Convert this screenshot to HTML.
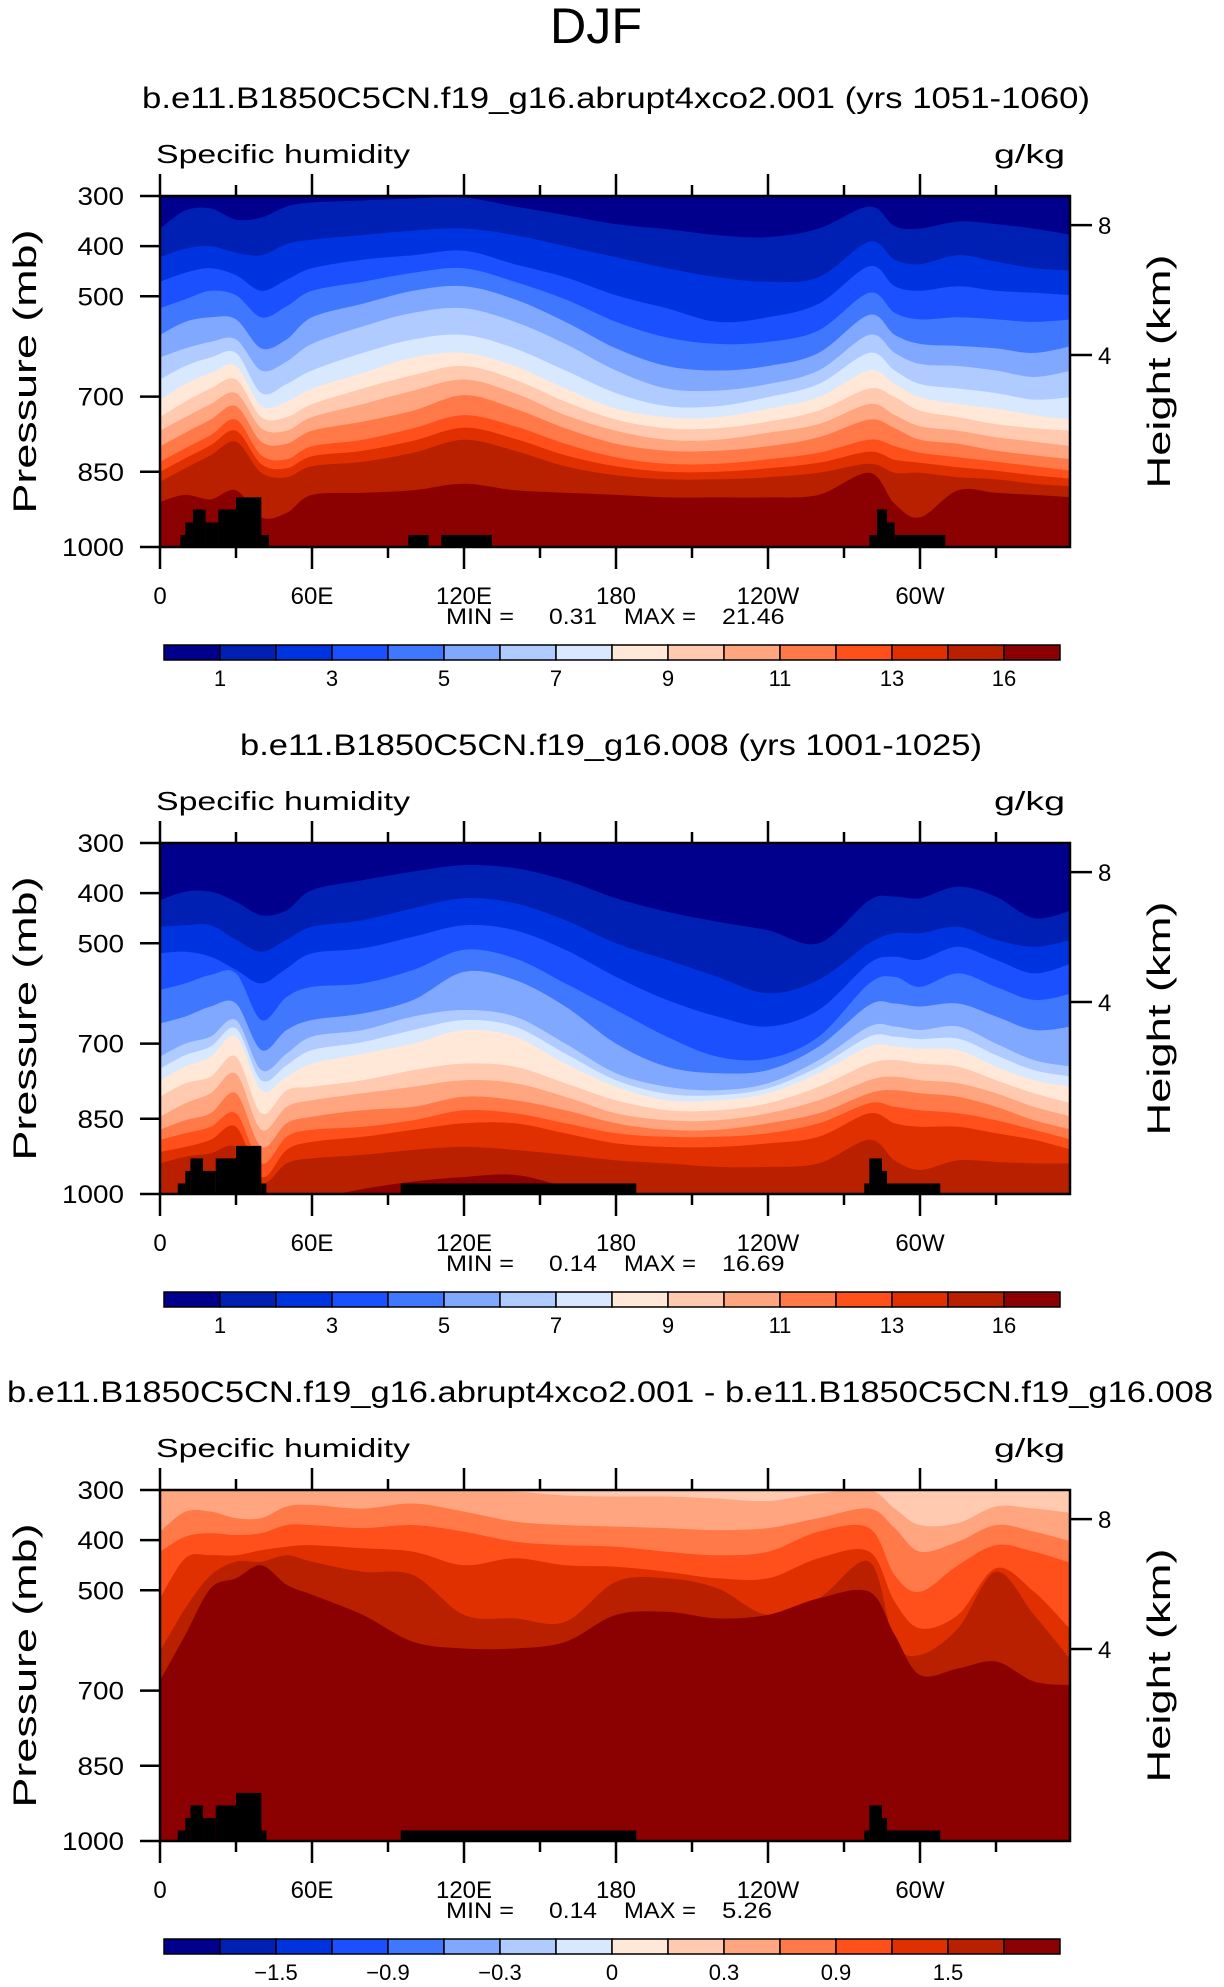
<!DOCTYPE html>
<html><head><meta charset="utf-8"><title>DJF Specific humidity</title>
<style>
html,body{margin:0;padding:0;background:#fff;}
svg{display:block;}
text{font-family:"Liberation Sans",sans-serif;fill:#000;}
</style></head>
<body>
<svg id="fig" xmlns="http://www.w3.org/2000/svg" width="1224" height="1987" viewBox="0 0 1224 1987">
<rect x="0" y="0" width="1224" height="1987" fill="#fff"/>
<text x="596" y="43" font-size="50" text-anchor="middle" textLength="92" lengthAdjust="spacingAndGlyphs">DJF</text>
<g id="panels"></g>
</svg>
<script>
// ---- data ----
const LON = [0,10,20,30,40,50,60,80,100,120,140,160,180,200,220,240,260,280,290,300,315,330,345,360];
const COLORS = ["#00008c","#0020b4","#0033e0","#1a50ff","#4077ff","#80a8ff","#b0cbff","#d8e8ff","#ffe8d8","#ffcaaf","#ffa57f","#ff7a48","#ff501c","#e03000","#b82000","#8b0000"];
const CB_LABELS_ABS = ["1","3","5","7","9","11","13","16"];
const CB_LABEL_IDX_ABS = [0,2,4,6,8,10,12,14];
const CB_LABELS_DIFF = ["\u22121.5","\u22120.9","\u22120.3","0","0.3","0.9","1.5"];
const CB_LABEL_IDX_DIFF = [1,3,5,7,9,11,13];
const LON_TICKS = [0,60,120,180,240,300];
const LON_LABELS = ["0","60E","120E","180","120W","60W"];
const P_TICKS = [300,400,500,700,850,1000];
const P_LABELS = ["300","400","500","700","850","1000"];
const KM_TICKS = [8,4];
const KM_TICK_P = [358,617];

// panel 1 boundary pressures (mb) per longitude
const p1b00=[365,329,325,347,343,321,313,309,305,303,321,338,356,366,378,382,365,321,360,365,351,356,365,378];
const p1b01=[422,405,400,413,418,396,387,378,369,365,378,400,422,444,462,471,462,391,427,436,418,431,444,449];
const p1b02=[471,453,444,458,489,467,444,427,418,409,436,462,498,524,551,542,515,440,480,489,480,489,493,498];
const p1b03=[524,506,489,498,542,520,489,471,453,444,471,506,551,582,595,591,568,493,533,546,542,546,551,546];
const p1b04=[577,551,542,546,604,586,542,515,489,480,506,551,604,639,648,639,613,537,577,595,599,604,613,599];
const p1b05=[622,604,591,586,648,630,595,560,533,524,551,595,648,684,688,675,648,577,613,635,639,648,661,648];
const p1b06=[666,639,622,613,693,675,648,613,586,577,604,648,693,719,719,701,675,613,648,675,684,693,706,701];
const p1b07=[706,675,653,639,719,710,684,653,622,613,639,684,724,741,741,724,701,648,675,701,715,724,737,746];
const p1b08=[741,710,684,666,741,741,715,684,657,639,666,710,746,763,763,750,728,684,701,728,741,755,763,768];
const p1b09=[768,741,715,693,763,768,741,715,688,666,693,737,768,786,786,772,755,715,737,759,768,781,790,799];
const p1b10=[799,772,746,719,790,794,768,750,728,697,724,763,794,808,808,799,781,746,763,786,794,808,817,825];
const p1b11=[830,803,777,746,817,825,799,786,763,737,759,794,821,834,834,825,812,786,799,812,821,830,839,848];
const p1b12=[850,823,797,768,835,843,819,808,788,762,784,817,839,850,850,843,832,810,826,832,841,848,857,864];
const p1b13=[870,843,817,790,852,861,839,830,812,786,808,839,857,865,865,861,852,834,852,852,861,865,874,879];
const p1b14=[910,896,905,887,941,932,896,892,887,874,887,892,896,901,901,901,896,852,914,941,887,892,896,901];

// panel 2
const p2b00=[414,397,397,417,444,434,394,374,357,344,350,374,410,437,457,474,500,414,407,410,387,407,450,434];
const p2b01=[467,464,464,493,517,493,467,454,430,410,420,454,500,533,567,600,573,500,480,480,467,493,507,493];
const p2b02=[520,517,527,553,580,550,520,510,487,464,474,513,567,613,646,666,633,540,527,533,507,533,560,540];
const p2b03=[593,580,563,560,653,607,587,580,553,513,530,580,633,686,726,730,686,580,567,587,560,587,613,600];
const p2b04=[660,646,626,620,713,673,653,640,613,557,573,626,700,746,759,753,706,623,620,626,620,646,673,666];
const p2b05=[726,700,686,653,753,720,686,673,646,633,646,700,759,786,793,779,733,666,666,673,666,700,733,746];
const p2b06=[750,723,706,670,773,743,713,697,673,653,666,720,773,800,803,789,746,686,686,691,690,723,753,766];
const p2b07=[773,746,726,686,793,766,740,720,700,673,686,740,786,813,813,799,759,706,706,710,713,746,773,786];
const p2b08=[806,779,766,726,839,793,786,773,753,740,746,779,813,833,833,819,786,740,733,740,746,773,799,819];
const p2b09=[846,819,799,760,872,826,813,799,786,773,779,806,839,853,853,839,813,773,766,773,779,799,826,846];
const p2b10=[872,853,839,799,906,859,846,833,826,806,813,833,859,872,872,859,839,799,793,799,806,826,853,872];
const p2b11=[892,879,866,839,939,886,872,866,853,833,839,859,879,886,886,879,859,819,826,833,839,853,872,892];
const p2b12=[916,906,892,866,966,912,896,886,872,859,859,879,899,906,906,899,886,839,859,866,866,879,892,912];
const p2b13=[939,926,919,906,979,939,929,922,912,906,912,922,933,939,946,946,939,892,933,952,933,936,939,939];
const p2b14=[1010,1010,1010,1010,1010,1010,1010,990,975,966,962,985,1010,1010,1010,1010,1010,1010,1010,1010,1010,1010,1010,1010];

// panel 3 (difference)
const p3b00=[300,300,300,300,300,300,300,300,300,300,303,311,313,313,317,322,307,300,337,370,366,333,337,346];
const p3b01=[383,343,343,356,356,333,330,337,327,343,363,370,373,376,380,376,356,337,376,423,403,370,383,403];
const p3b02=[423,393,386,390,386,370,370,376,370,383,403,410,413,423,430,423,383,376,470,503,450,410,423,446];
const p3b03=[516,436,430,430,420,413,410,416,423,450,436,450,453,463,476,476,436,423,523,576,549,456,503,582];
const p3b04=[622,536,470,443,443,430,443,463,470,549,556,563,483,476,496,549,516,443,603,629,576,463,549,642];
const p3b05=[680,589,496,476,450,489,509,549,603,616,616,603,549,543,556,549,516,503,589,669,656,642,682,689];

// topography [lon0, lon1, surface pressure]
const TOPO1 = [[8,10,976],[10,13,951],[13,18,925],[18,23,951],[23,30,925],[30,40,901],[40,43,976],[98,106,976],[111,131,976],[280,283,976],[283,287,925],[287,290,951],[290,310,976]];
const TOPO2 = [[7,10,979],[10,12,954],[12,17,929],[17,22,954],[22,30,929],[30,40,904],[40,42,979],[95,188,979],[278,280,979],[280,285,929],[285,287,954],[287,308,979]];

const P1_BOUNDS=[p1b00,p1b01,p1b02,p1b03,p1b04,p1b05,p1b06,p1b07,p1b08,p1b09,p1b10,p1b11,p1b12,p1b13,p1b14];
const P2_BOUNDS=[p2b00,p2b01,p2b02,p2b03,p2b04,p2b05,p2b06,p2b07,p2b08,p2b09,p2b10,p2b11,p2b12,p2b13,p2b14];
const P3_BOUNDS=[p3b00,p3b01,p3b02,p3b03,p3b04,p3b05];

const PANELS = [
 {top:196, title:"b.e11.B1850C5CN.f19_g16.abrupt4xco2.001 (yrs 1051-1060)", tx:616, tlen:948, bounds:P1_BOUNDS, base:0, topo:TOPO1, min:"0.31", max:"21.46", cbl:CB_LABELS_ABS, cbi:CB_LABEL_IDX_ABS},
 {top:843, title:"b.e11.B1850C5CN.f19_g16.008 (yrs 1001-1025)", tx:611, tlen:742, bounds:P2_BOUNDS, base:0, topo:TOPO2, min:"0.14", max:"16.69", cbl:CB_LABELS_ABS, cbi:CB_LABEL_IDX_ABS},
 {top:1490, title:"b.e11.B1850C5CN.f19_g16.abrupt4xco2.001 - b.e11.B1850C5CN.f19_g16.008", tx:610, tlen:1206, bounds:P3_BOUNDS, base:9, topo:TOPO2, min:"0.14", max:"5.26", cbl:CB_LABELS_DIFF, cbi:CB_LABEL_IDX_DIFF}
];

// ---- rendering ----
const NS="http://www.w3.org/2000/svg";
const L=160, W=910, H=351;
function xs(lon){return L + lon*(912/360);}
function ys(p,top){return top + (p-300)/700*H;}
function el(tag, attrs, parent){const e=document.createElementNS(NS,tag);for(const k in attrs)e.setAttribute(k,attrs[k]);parent.appendChild(e);return e;}
function txt(parent,x,y,s,size,anchor,len){const t=el('text',{x:x,y:y,'font-size':size,'text-anchor':anchor||'start'},parent);if(len){t.setAttribute('textLength',len);t.setAttribute('lengthAdjust','spacingAndGlyphs');}t.textContent=s;return t;}
function smoothPath(pts){
  let d="M"+pts[0][0].toFixed(1)+","+pts[0][1].toFixed(1);
  for(let i=0;i<pts.length-1;i++){
    const p0=pts[Math.max(0,i-1)],p1=pts[i],p2=pts[i+1],p3=pts[Math.min(pts.length-1,i+2)];
    const c1=[p1[0]+(p2[0]-p0[0])/6,p1[1]+(p2[1]-p0[1])/6];
    const c2=[p2[0]-(p3[0]-p1[0])/6,p2[1]-(p3[1]-p1[1])/6];
    d+=" C"+c1[0].toFixed(1)+","+c1[1].toFixed(1)+" "+c2[0].toFixed(1)+","+c2[1].toFixed(1)+" "+p2[0].toFixed(1)+","+p2[1].toFixed(1);
  }
  return d;
}
const root=document.getElementById('panels');
PANELS.forEach((P,pi)=>{
  const g=el('g',{},root);
  
  
  const top=P.top, bot=top+H;
  const t=txt(g,P.tx,top-88,P.title,30,'middle',P.tlen);
  
  
  const s1=txt(g,156,top-33,"Specific humidity",26,'start',254);
  
  
  const s2=txt(g,1065,top-33,"g/kg",26,'end',71);
  
  
  const cp=el('clipPath',{id:'clip'+pi},g);
  el('rect',{x:L,y:top,width:W,height:H},cp);
  const field=el('g',{'clip-path':'url(#clip'+pi+')'},g);
  
  
  const bg=el('rect',{x:L,y:top,width:W,height:H,fill:COLORS[P.base]},field);
  
  
  P.bounds.forEach((arr,k)=>{
    const pts=LON.map((lon,i)=>[xs(lon),ys(arr[i],top)]);
    let d=smoothPath(pts)+" L"+xs(360)+","+(bot+5)+" L"+xs(0)+","+(bot+5)+" Z";
    const path=el('path',{d:d,fill:COLORS[P.base+k+1]},field);
    
    
  });
  P.topo.forEach(seg=>{
    const r=el('rect',{x:xs(seg[0]),y:ys(seg[2],top),width:xs(seg[1])-xs(seg[0]),height:bot-ys(seg[2],top)+2,fill:'#000'},field);
    
    
  });
  const fr=el('rect',{x:L,y:top,width:W,height:H,fill:'none',stroke:'#000','stroke-width':2.5},g);
  
  
  for(let lon=0;lon<360;lon+=30){
    const major=lon%60===0, len=major?22:11;
    el('line',{x1:xs(lon),y1:top,x2:xs(lon),y2:top-len,stroke:'#000','stroke-width':2.5},g);
    el('line',{x1:xs(lon),y1:bot,x2:xs(lon),y2:bot+len,stroke:'#000','stroke-width':2.5},g);
  }
  LON_TICKS.forEach((lon,i)=>{
    const lt=txt(g,xs(lon),bot+57,LON_LABELS[i],24,'middle');
    
    
  });
  P_TICKS.forEach((p,i)=>{
    el('line',{x1:L,y1:ys(p,top),x2:L-20,y2:ys(p,top),stroke:'#000','stroke-width':2.5},g);
    const yt=txt(g,124,ys(p,top)+9,P_LABELS[i],25,'end',P_LABELS[i].length*15.5);
    
    
  });
  KM_TICKS.forEach((km,i)=>{
    const yy=ys(KM_TICK_P[i],top);
    el('line',{x1:L+W,y1:yy,x2:L+W+22,y2:yy,stroke:'#000','stroke-width':2.5},g);
    const kt=txt(g,1098,yy+9,String(km),24,'start');
    
    
  });
  const ya=txt(g,0,0,"Pressure  (mb)",32,'middle',284);
  ya.setAttribute('transform','translate(36,'+(top+H/2)+') rotate(-90)');
  
  
  const ya2=txt(g,0,0,"Height  (km)",32,'middle',234);
  ya2.setAttribute('transform','translate(1170,'+(top+H/2)+') rotate(-90)');
  
  
  const my=bot+77;
  txt(g,446,my,"MIN =",22,'start',68);
  txt(g,597,my,P.min,22,'end',P.min.length*12);
  txt(g,624,my,"MAX =",22,'start',72);
  const mx=txt(g,722,my,P.max,22,'start',P.max.length*12.5);
  
  
  const cb=el('g',{},g);
  
  
  const cy=bot+98;
  COLORS.forEach((c,i)=>{
    const r=el('rect',{x:164+56*i,y:cy,width:56,height:15,fill:c,stroke:'#000','stroke-width':1.5},cb);
    
    
  });
  P.cbl.forEach((s,j)=>{
    const ct=txt(cb,164+56*(P.cbi[j]+1),cy+41,s,22,'middle');
    
    
  });
});
</script>
</body></html>
